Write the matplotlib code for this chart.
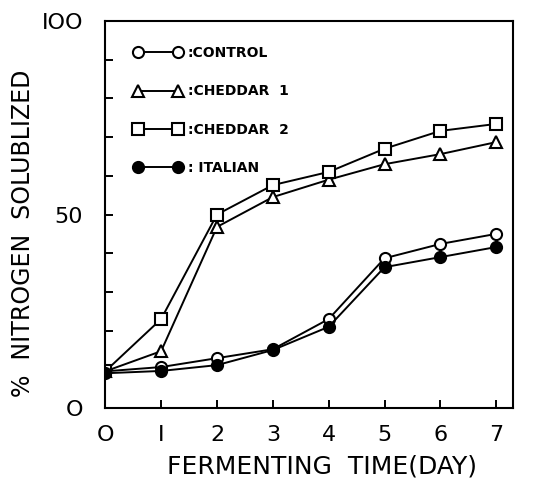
import matplotlib
matplotlib.use("Agg")
import matplotlib.pyplot as plt
import numpy as np

days = [0, 1, 2, 3, 4, 5, 6, 7]
control = [9.5, 10.6, 12.9, 15.2, 23.0, 38.7, 42.4, 45.0]
cheddar1 = [9.5, 14.7, 46.8, 54.5, 59.0, 63.0, 65.6, 68.7]
cheddar2 = [9.5, 23.0, 50.0, 57.6, 61.0, 67.0, 71.6, 73.4]
italian = [9.0, 9.6, 11.1, 15.0, 21.0, 36.4, 39.0, 41.6]

labels = [":CONTROL", ":CHEDDAR  1", ":CHEDDAR  2", ": ITALIAN"]
xticks = [0, 1, 2, 3, 4, 5, 6, 7]
xticklabels = ["O", "I", "2", "3", "4", "5", "6", "7"]
yticks = [0, 50, 100]
yticklabels = ["O", "50", "IOO"]

plt.rcParams['font.family'] = ['DejaVu Sans']
fig = plt.figure(figsize=(5.54, 4.87), dpi=100)
ax = fig.add_axes([0.19, 0.162, 0.736, 0.795])

kw = dict(color='black', lw=1.4, ms=8, mew=1.5)
ax.plot(days, control, marker='o', mfc='white', label=labels[0], **kw)
ax.plot(days, cheddar1, marker='^', mfc='white', label=labels[1], **kw)
ax.plot(days, cheddar2, marker='s', mfc='white', label=labels[2], **kw)
ax.plot(days, italian, marker='o', mfc='black', label=labels[3], **kw)

ax.set_xlim(0, 7.3)
ax.set_ylim(0, 100)
ax.set_xticks(xticks)
ax.set_xticklabels(xticklabels, fontsize=16)
ax.set_yticks(yticks)
ax.set_yticklabels(yticklabels, fontsize=16)
ax.set_yticks(np.arange(0, 101, 10), minor=True)
ax.tick_params(axis='both', which='both', direction='in', length=6, width=1.4)
ax.tick_params(axis='x', pad=12)
ax.tick_params(axis='y', pad=16)
for s in ax.spines.values():
    s.set_linewidth(1.5)

ax.set_xlabel("FERMENTING  TIME(DAY)", fontsize=18, va='center')
ax.set_ylabel("%  NITROGEN  SOLUBLIZED", fontsize=17, va='center')
ax.xaxis.set_label_coords(0.532, -0.152)
ax.yaxis.set_label_coords(-0.201, 0.452)

leg = ax.legend(loc='upper left', frameon=False, numpoints=2, handlelength=3.5,
                handletextpad=0.4, labelspacing=1.75, borderpad=0, borderaxespad=0,
                prop=dict(size=10, weight='bold'),
                bbox_to_anchor=(0.069, 0.935))

fig.savefig("out.png", dpi=100)
